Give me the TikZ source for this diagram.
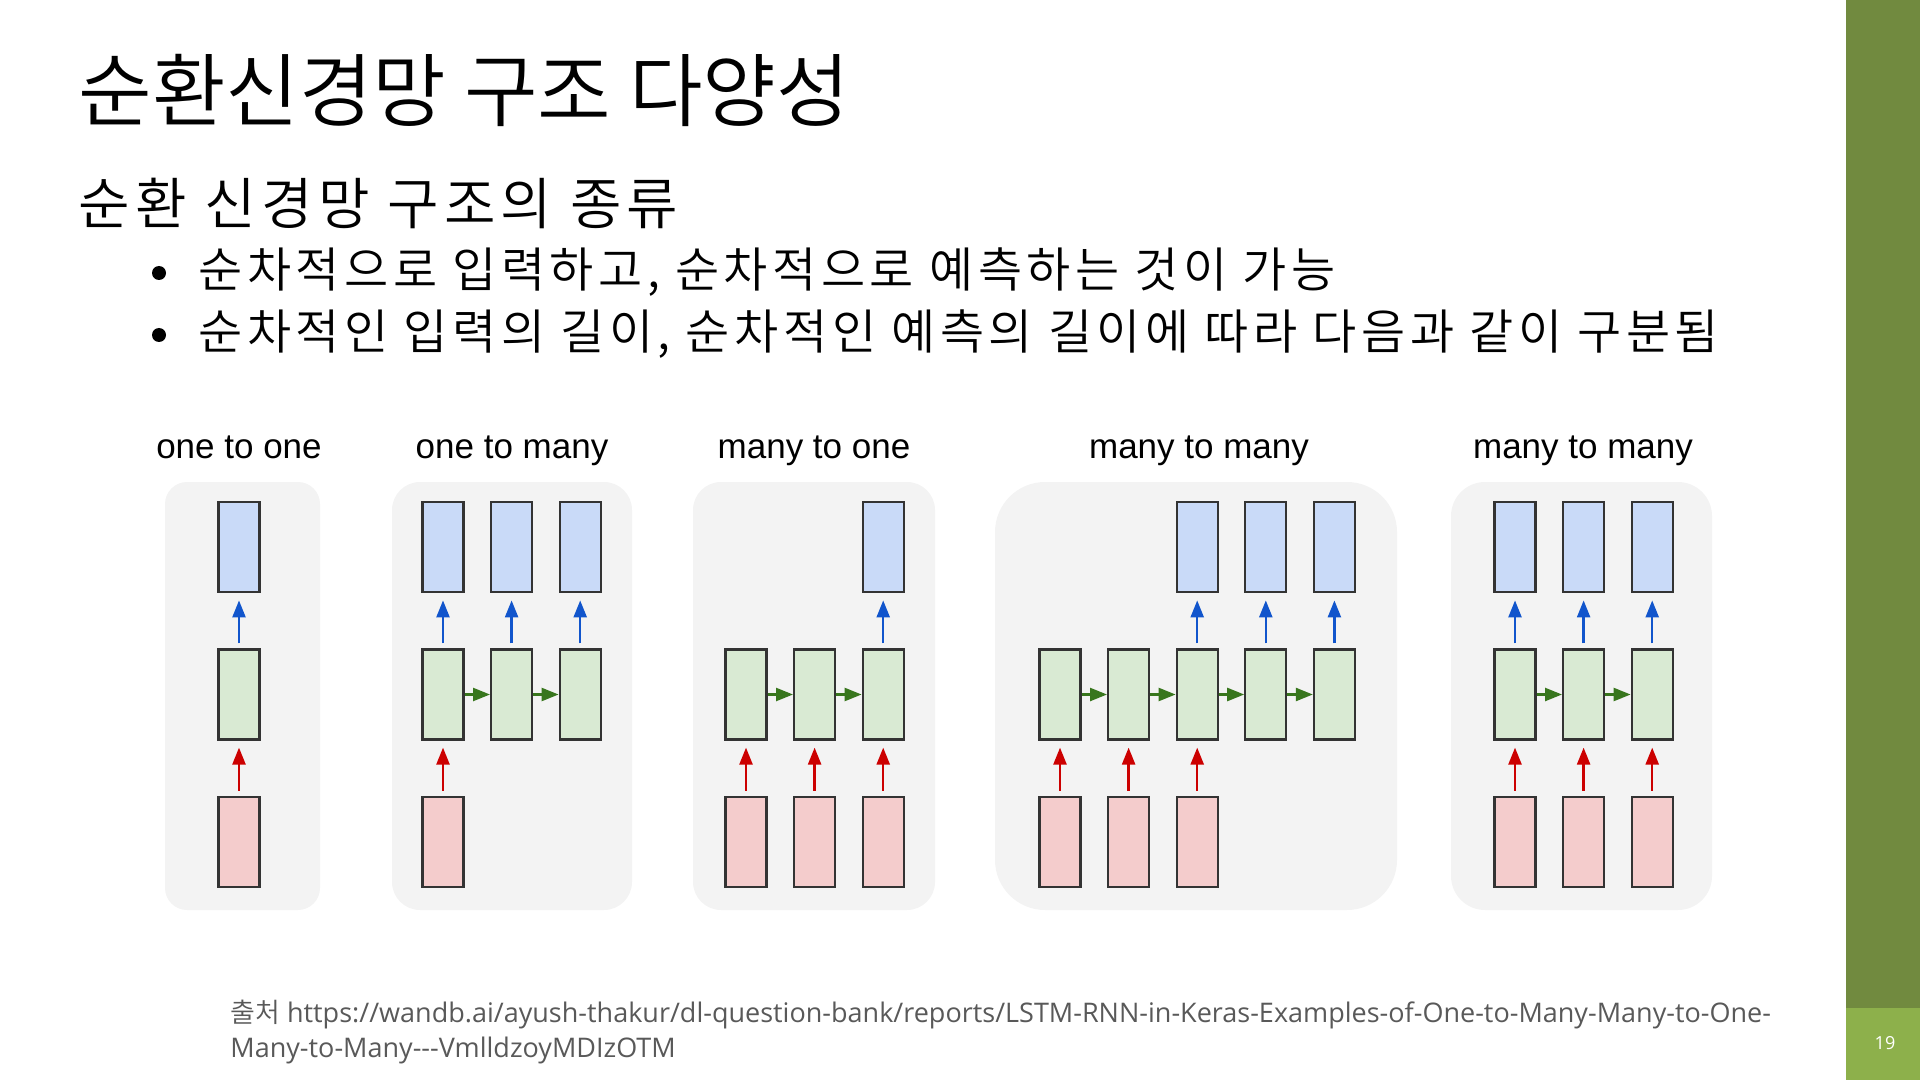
\documentclass[tikz,border=0pt]{standalone}
\usepackage{fontspec}
\IfFontExistsTF{Noto Sans CJK KR DemiLight}
  {\def\krname{Noto Sans CJK KR DemiLight}}
  {\def\krname{Noto Sans CJK KR}}
\setmainfont{\krname}
\newfontfamily\bodyfont{\krname}[LetterSpace=9.4]
\newfontfamily\figfont{Liberation Sans}
\newfontfamily\notefont{Open Sans}
\usetikzlibrary{calc,positioning,arrows.meta,chains}
\definecolor{barolive}{HTML}{718A3F}
\definecolor{barlight}{HTML}{8DB04B}
\definecolor{panelgray}{HTML}{F3F3F3}
\definecolor{outblue}{HTML}{C9DAF8}
\definecolor{hidgreen}{HTML}{D9EAD3}
\definecolor{inred}{HTML}{F4CCCC}
\definecolor{cellline}{HTML}{333333}
\definecolor{outarrowc}{HTML}{1155CC}
\definecolor{inarrowc}{HTML}{CC0000}
\definecolor{hidarrowc}{HTML}{38761D}
\definecolor{notegray}{HTML}{595959}
\tikzset{
>={Triangle[length=8.5pt,width=6.5pt]},
  cell/.style={
    rectangle,
    draw=cellline, line width=1.1pt,
    minimum width=20.5pt,
    minimum height=45pt,
    inner sep=0pt},
  outcell/.style={cell, fill=outblue},
  hidcell/.style={cell, fill=hidgreen, on chain},
  incell/.style={cell, fill=inred},
  every join/.style={->, color=hidarrowc, line width=1.2pt},
  uparrow/.style={->, line width=1.2pt, shorten <=2.5pt, shorten >=3.5pt},
  outarrow/.style={uparrow, color=outarrowc},
  inarrow/.style={uparrow, color=inarrowc},
  panel/.style={fill=panelgray},
  caption/.style={font=\figfont\fontsize{17.5}{21}\selectfont, anchor=base},
  titletext/.style={font=\fontsize{40}{48}\selectfont, anchor=base west, inner sep=0pt},
  subtext/.style={font=\bodyfont\fontsize{28}{34}\selectfont, anchor=base west, inner sep=0pt},
  itemtext/.style={font=\bodyfont\fontsize{24}{29}\selectfont, anchor=base west, inner sep=0pt},
  itemdot/.style={circle, fill=black, inner sep=0pt, minimum size=7pt},
  sourcetext/.style={font=\notefont\fontsize{13.5}{17.5}\selectfont, text=notegray,
    anchor=base west, inner sep=0pt, align=left},
  pagenum/.style={font=\notefont\fontsize{9}{11}\selectfont, text=white},
}
\begin{document}
\begin{tikzpicture}[x=0.5pt, y=-0.5pt, node distance=27.5pt and 12.7pt]
  \useasboundingbox (0,0) rectangle (1920,1080);
  % side bar
  \fill[barolive] (1846,0) rectangle (1920,1008);
  \fill[barlight] (1846,1008) rectangle (1920,1080);
  \node[pagenum] (page) at (1885,1043) {19};

  % slide text
  \node[titletext] (title) at (78,121) {순환신경망 구조 다양성};
  \node[subtext] (sub) at (78,225) {순환 신경망 구조의 종류};
  \node[itemtext] (item1) at (198,288) {순차적으로 입력하고, 순차적으로 예측하는 것이 가능};
  \node[itemtext] (item2) at (198,350) {순차적인 입력의 길이, 순차적인 예측의 길이에 따라 다음과 같이 구분됨};
  \node[itemdot] (dot1) at (159,273) {};
  \node[itemdot] (dot2) at (159,335) {};

  % panels
  \foreach \l/\r/\rad in {165/320/11, 392/632/14, 693/935/14, 995/1397/25, 1451/1712/17}
    \fill[panel, rounded corners=\rad pt] (\l,482) rectangle (\r,910);

  \node[caption] (capa) at (239,458) {one to one};
  \node[caption] (capb) at (512,458) {one to many};
  \node[caption] (capc) at (814,458) {many to one};
  \node[caption] (capd) at (1199,458) {many to many};
  \node[caption] (cape) at (1583,458) {many to many};

  % cells: hidden chain, outputs above, inputs below
  \foreach \p/\x/\n/\ins/\outs in {a/239/1/{1}/{1}, b/443/3/{1}/{1,2,3},
      c/746/3/{1,2,3}/{3}, d/1060/5/{1,2,3}/{3,4,5}, e/1515/3/{1,2,3}/{1,2,3}} {
    \begin{scope}[shift={(\x,694.5)}, start chain=going right]
      \foreach \i in {1,...,\n}
        \node[hidcell, join] (h\p\i) {};
    \end{scope}
    \foreach \i in \outs {
      \node[outcell, above=of h\p\i] (o\p\i) {};
      \draw[outarrow] (h\p\i) -- (o\p\i);
    }
    \foreach \i in \ins {
      \node[incell, below=of h\p\i] (x\p\i) {};
      \draw[inarrow] (x\p\i) -- (h\p\i);
    }
  }

  % source
  \node[sourcetext] (src) at (230,1057)
    {{\normalfont 출처} https://wandb.ai/ayush-thakur/dl-question-bank/reports/LSTM-RNN-in-Keras-Examples-of-One-to-Many-Many-to-One-\\
     Many-to-Many---VmlldzoyMDIzOTM};
\end{tikzpicture}
\end{document}
